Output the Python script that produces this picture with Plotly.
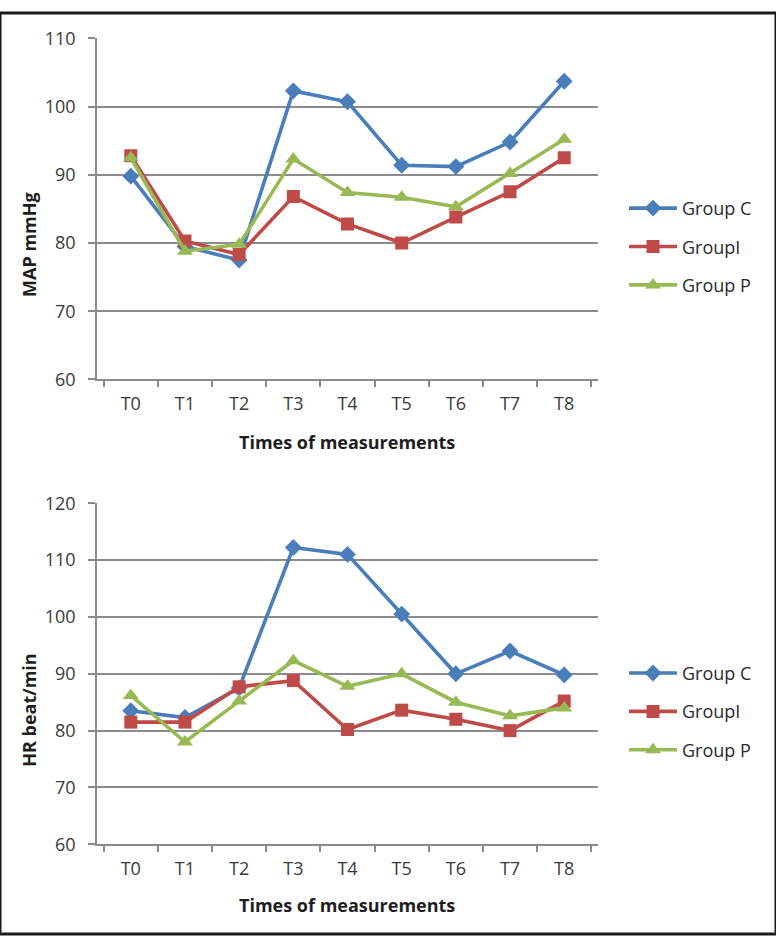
import plotly.graph_objects as go

categories = ["T0", "T1", "T2", "T3", "T4", "T5", "T6", "T7", "T8"]

map_group_c = [89.8, 79.5, 77.5, 102.3, 100.7, 91.4, 91.2, 94.8, 103.7]
map_group_i = [92.8, 80.3, 78.3, 86.8, 82.8, 80.0, 83.8, 87.5, 92.5]
map_group_p = [92.5, 78.8, 79.8, 92.3, 87.4, 86.7, 85.3, 90.2, 95.2]

hr_group_c = [83.5, 82.3, 87.5, 112.2, 111.0, 100.5, 90.0, 94.0, 89.8]
hr_group_i = [81.5, 81.5, 87.7, 88.8, 80.2, 83.6, 82.0, 80.0, 85.2]
hr_group_p = [86.2, 78.0, 85.2, 92.3, 87.8, 90.0, 85.0, 82.6, 84.0]

series_names = ["Group C", "GroupI", "Group P"]
colors = ["#4A7EBB", "#BE4B48", "#98B954"]
symbols = ["diamond", "square", "triangle-up"]
sizes = [13, 13, 14]

W, H = 776, 945
FONT = "Open Sans"

fig = go.Figure()

top_sets = [map_group_c, map_group_i, map_group_p]
bot_sets = [hr_group_c, hr_group_i, hr_group_p]

for i, (name, vals) in enumerate(zip(series_names, top_sets)):
    fig.add_trace(go.Scatter(
        x=categories, y=vals, name=name, mode="lines+markers",
        line=dict(color=colors[i], width=3.6),
        marker=dict(symbol=symbols[i], size=sizes[i], color=colors[i]),
        xaxis="x", yaxis="y", legend="legend", legendgroup="a%d" % i))

for i, (name, vals) in enumerate(zip(series_names, bot_sets)):
    fig.add_trace(go.Scatter(
        x=categories, y=vals, name=name, mode="lines+markers",
        line=dict(color=colors[i], width=3.6),
        marker=dict(symbol=symbols[i], size=sizes[i], color=colors[i]),
        xaxis="x2", yaxis="y2", legend="legend2", legendgroup="b%d" % i))

x_dom = [97 / W, 598 / W]
top_dom = [1 - 376 / H, 1 - 26 / H]
bot_dom = [1 - 853 / H, 1 - 503 / H]

TICK_FONT = dict(family=FONT, size=18, color="#3a3a3a")

axis_common_x = dict(
    type="category", domain=x_dom, showline=True, linecolor="#8a8a8a", linewidth=1.5,
    ticks="outside", tickson="boundaries", ticklen=6, tickcolor="#8a8a8a", tickwidth=1.5,
    showgrid=False, tickfont=TICK_FONT, zeroline=False, ticklabelstandoff=7,
)
axis_common_y = dict(
    showline=True, linecolor="#8a8a8a", linewidth=1.5, ticks="outside", ticklen=7,
    tickcolor="#8a8a8a", tickwidth=1.5, showgrid=True, gridcolor="#8C8C8C", gridwidth=1.5,
    tickfont=TICK_FONT, zeroline=False, dtick=10, ticklabelstandoff=9,
)

title_font = dict(family=FONT, size=18, color="#1e1e1e")
legend_font = dict(family=FONT, size=18, color="#2a2a2a")

fig.update_layout(
    width=W, height=H, margin=dict(l=0, r=0, t=0, b=0),
    paper_bgcolor="white", plot_bgcolor="white",
    font=dict(family=FONT, color="#333333"),
    xaxis=dict(**axis_common_x, anchor="y"),
    yaxis=dict(**axis_common_y, domain=top_dom, range=[60, 110], anchor="x"),
    xaxis2=dict(**axis_common_x, anchor="y2"),
    yaxis2=dict(**axis_common_y, domain=bot_dom, range=[60, 120], anchor="x2"),
    legend=dict(x=624 / W, y=1 - 240 / H, xanchor="left", yanchor="middle",
                font=legend_font, tracegroupgap=12, itemwidth=48,
                traceorder="grouped", bgcolor="rgba(0,0,0,0)"),
    legend2=dict(x=624 / W, y=1 - 717 / H, xanchor="left", yanchor="middle",
                 font=legend_font, tracegroupgap=12, itemwidth=48,
                 traceorder="grouped", bgcolor="rgba(0,0,0,0)"),
    shapes=[dict(type="rect", xref="paper", yref="paper", x0=0, y0=0, x1=1, y1=1,
                 line=dict(color="#1a1a1a", width=3))],
    annotations=[
        dict(text="<b>Times of measurements</b>", x=347 / W, y=1 - 440 / H, xref="paper", yref="paper",
             xanchor="center", yanchor="middle", showarrow=False, font=title_font),
        dict(text="<b>Times of measurements</b>", x=347 / W, y=1 - 915 / H, xref="paper", yref="paper",
             xanchor="center", yanchor="middle", showarrow=False, font=title_font),
        dict(text="<b>MAP mmHg</b>", x=29 / W, y=1 - 238 / H, xref="paper", yref="paper",
             xanchor="center", yanchor="middle", showarrow=False, textangle=-90, font=title_font),
        dict(text="<b>HR beat/min</b>", x=29 / W, y=1 - 716 / H, xref="paper", yref="paper",
             xanchor="center", yanchor="middle", showarrow=False, textangle=-90, font=title_font),
    ],
)

css_js = (
    "var s=document.createElement('style');"
    "s.innerHTML='html,body{margin:0;padding:0;overflow:hidden;width:776px;height:945px;}';"
    "document.head.appendChild(s);"
)

fig.write_html("out.html", config={"displayModeBar": False}, post_script=css_js)
